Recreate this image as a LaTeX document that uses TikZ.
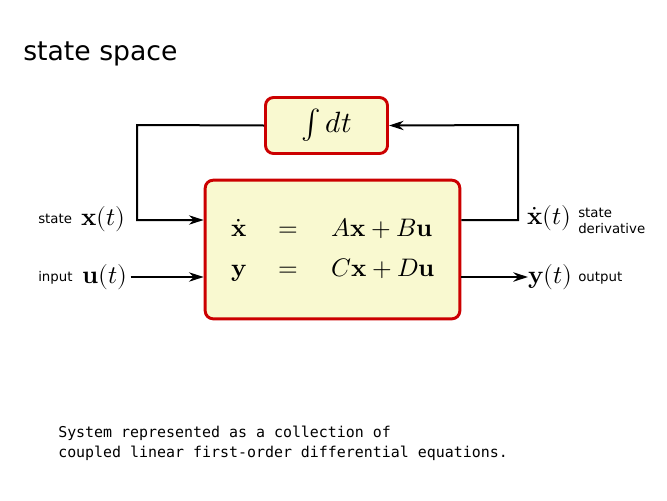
\documentclass[tikz,border=0pt]{standalone}
\usepackage{amsmath}
\usepackage{fontspec}
\setmainfont{DejaVu Sans}
\newfontfamily\monof{DejaVu Sans Mono}
\usepackage{unicode-math}
\setmathfont{Latin Modern Math}
\usetikzlibrary{arrows.meta}
\definecolor{boxfill}{RGB}{249,249,208}
\definecolor{boxedge}{RGB}{204,0,0}
\begin{document}
\begin{tikzpicture}[x=0.75pt,y=-0.75pt,
  blk/.style={draw=boxedge,line width=2.2pt,fill=boxfill,rounded corners=6pt,inner sep=0pt},
  wire/.style={line width=1.5pt},
  arr/.style={wire,-{Stealth[length=11pt,width=7pt]}},
  small/.style={font=\fontsize{10}{11.5}\selectfont,inner sep=0pt},
  lab/.style={font=\fontsize{19}{21}\selectfont,inner sep=0pt}]
\useasboundingbox (0,0) rectangle (667,500);
\node[anchor=west,inner sep=0pt,font=\fontsize{20}{22}\selectfont] (title) at (23,54) {state space};
\node[blk,minimum width=91.5pt,minimum height=42pt] (int) at (326.5,125.5) {\fontsize{22}{24}\selectfont $\int dt$};
\node[blk,minimum width=191pt,minimum height=104pt] (sys) at (332.5,249.5) {};
\node[anchor=center,inner sep=0pt,font=\fontsize{19}{21}\selectfont] (eq) at (333,251) {$\begin{aligned}\dot{\symbf{x}} \quad&=\quad A\symbf{x}+B\symbf{u}\\[6pt] \symbf{y}\quad&=\quad C\symbf{x}+D\symbf{u}\end{aligned}$};
\coordinate (lt) at (137,125);
\coordinate (lb) at (137,220);
\coordinate (rt) at (518,125);
\coordinate (rb) at (518,220);
\draw[arr] (int.west) -- (lt) -- (lb) -- (sys.west |- lb);
\draw[arr] (sys.east |- rb) -- (rb) -- (rt) -- (int.east);
\node[small,anchor=west] (st) at (38,219) {state};
\node[lab,anchor=west] (xt) at (81,219) {$\symbf{x}(t)$};
\node[small,anchor=west] (in) at (38,278) {input};
\node[lab,anchor=west] (ut) at (82,277) {$\symbf{u}(t)$};
\draw[arr] (ut.east) ++(3,0) coordinate (us) (us) -- (sys.west |- us);
\node[lab,anchor=west] (xd) at (527,218) {$\dot{\symbf{x}}(t)$};
\node[small,anchor=west,align=left] (sd) at (578,221) {state\\derivative};
\node[lab,anchor=west] (yt) at (528,277) {$\symbf{y}(t)$};
\node[small,anchor=west] (out) at (578,278) {output};
\draw[arr] (sys.east |- yt) -- (yt.west);
\node[anchor=north west,align=left,inner sep=0pt,font=\monof\fontsize{11.2}{14.5}\selectfont] (cap) at (58,426) {System represented as a collection of\\coupled linear first-order differential equations.};
\end{tikzpicture}
\end{document}
